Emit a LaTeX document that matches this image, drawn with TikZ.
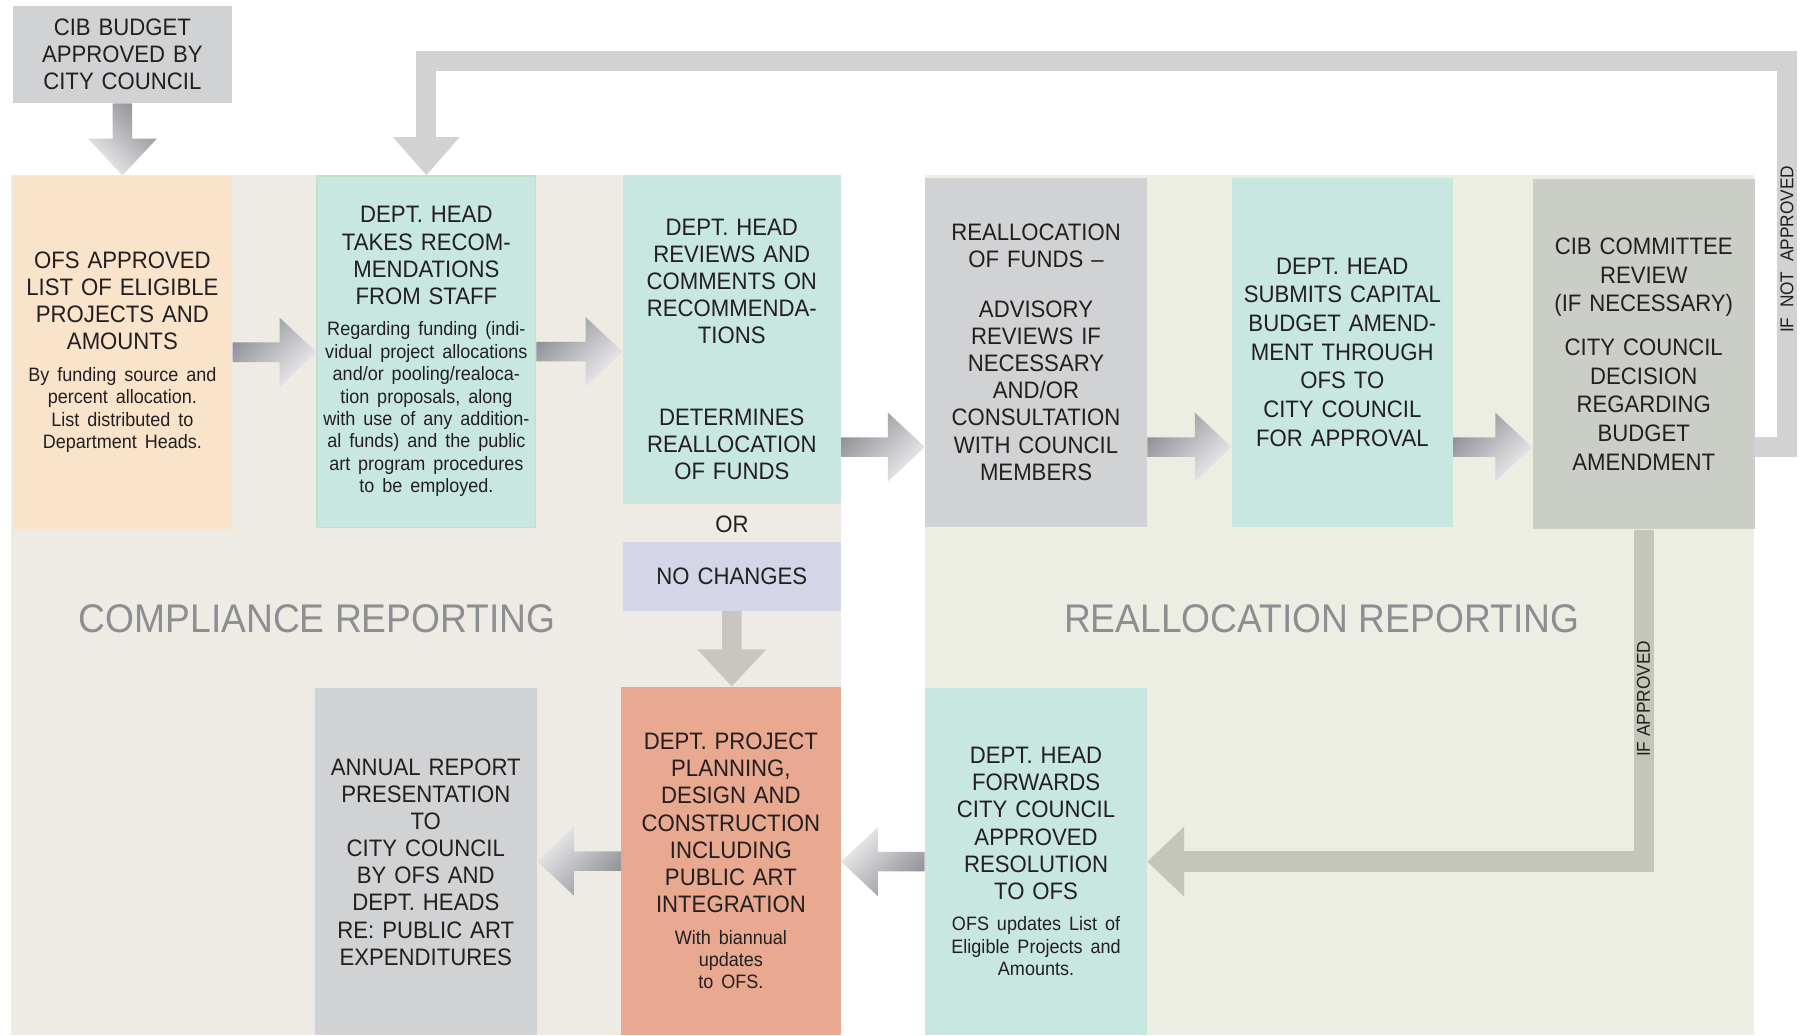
\documentclass[tikz,border=0pt]{standalone}
\usepackage{fontspec}
\setmainfont{Liberation Sans}[FakeStretch=0.93]
\usetikzlibrary{calc}

\definecolor{ink}{HTML}{231F20}
\definecolor{cmpbg}{HTML}{EEEAE4}
\definecolor{relbg}{HTML}{EDEEE3}
\definecolor{peach}{HTML}{F9E3CB}
\definecolor{teal}{HTML}{C8E7E1}
\definecolor{tkborder}{HTML}{C2E1C8}
\definecolor{boxgray}{HTML}{D1D2D4}
\definecolor{lav}{HTML}{D4D5E7}
\definecolor{salmon}{HTML}{E9A890}
\definecolor{cibgray}{HTML}{CBCEC6}
\definecolor{fbgray}{HTML}{D2D2D2}
\definecolor{apgray}{HTML}{C4C6B9}
\definecolor{ncarrow}{HTML}{C9C5C0}
\definecolor{headgray}{HTML}{8C8E92}
\definecolor{arrdark}{HTML}{8E8F94}
\definecolor{arrlight}{HTML}{EEEEF0}

\newcommand{\boxfont}{\fontsize{11.8}{13.45}\selectfont}
\newcommand{\notefont}{\fontsize{9.6}{11.1}\selectfont}
\newcommand{\headfont}{\fontsize{19.8}{22}\selectfont}
\newcommand{\labfont}{\fontsize{9.2}{10}\selectfont}

% block arrows: [style]{tail}{tip}
\newcommand{\rblock}[3][]{\path[#1] ($(#2)+(0,-8.5)$) -- ($(#3)+(-32,-8.5)$) -- ($(#3)+(-32,-30)$) -- (#3)
  -- ($(#3)+(-32,30)$) -- ($(#3)+(-32,8.5)$) -- ($(#2)+(0,8.5)$) -- cycle;}
\newcommand{\lblock}[3][]{\path[#1] ($(#2)+(0,-8.5)$) -- ($(#3)+(32,-8.5)$) -- ($(#3)+(32,-30)$) -- (#3)
  -- ($(#3)+(32,30)$) -- ($(#3)+(32,8.5)$) -- ($(#2)+(0,8.5)$) -- cycle;}
\newcommand{\dblock}[3][]{\path[#1] ($(#2)+(-8.5,0)$) -- ($(#3)+(-8.5,-32)$) -- ($(#3)+(-30,-32)$) -- (#3)
  -- ($(#3)+(30,-32)$) -- ($(#3)+(8.5,-32)$) -- ($(#2)+(8.5,0)$) -- cycle;}

\begin{document}
\begin{tikzpicture}[x=0.02cm,y=-0.02cm,
	box/.style={rectangle,inner sep=0pt,text=ink,align=center,text width=3.7cm,font=\boxfont},
	sz/.style 2 args={minimum width=#1*0.02cm,minimum height=#2*0.02cm},
	wide/.style={font={\fontsize{11.8}{14.2}\selectfont}},
	head/.style={inner sep=0pt,text=headgray,font=\headfont},
	lab/.style={inner sep=0pt,text=ink,font=\labfont,rotate=90},
	gradR/.style={top color=arrdark,bottom color=arrlight,shading angle=45},
	gradL/.style={top color=arrlight,bottom color=arrdark,shading angle=45},
	gradD/.style={top color=arrdark,bottom color=arrlight,shading angle=-45},
	flatD/.style={fill=ncarrow},
	fbbar/.style={draw=fbgray,line width=0.348cm},
	apbar/.style={draw=apgray,line width=0.354cm}]
	\useasboundingbox (0,0) rectangle (1568,901);
	\fill[white] (0,0) rectangle (1568,901);

	% panels
	\fill[cmpbg] (9.6,152) rectangle (731.5,901);
	\fill[relbg] (804.5,152) rectangle (1526.5,901);
	\node[head] (cmphead) at (276,538) {COMPLIANCE REPORTING};
	\node[head] (relhead) at (1150,538) {REALLOCATION REPORTING};

	% top row
	\node[box,sz={191}{84},fill=boxgray] (budget) at (106.5,47.5) {CIB BUDGET\\APPROVED BY\\CITY COUNCIL};
	\node[box,sz={191}{307},fill=peach] (ofs) at (106.5,306.5) {OFS APPROVED\\LIST OF ELIGIBLE\\PROJECTS AND\\AMOUNTS\par\vspace{4.5pt}\notefont By funding source and\\percent allocation.\\List distributed to\\Department Heads.\par};
	\node[box,sz={190}{306},fill=teal,draw=tkborder,line width=0.7pt] (takes) at (371,306) {DEPT. HEAD\\TAKES RECOM-\\MENDATIONS\\FROM STAFF\par\vspace{4.5pt}\notefont Regarding funding (indi-\\vidual project allocations\\and/or pooling/realoca-\\tion proposals, along\\with use of any addition-\\al funds) and the public\\art program procedures\\to be employed.\par};
	\node[box,sz={189.5}{286},fill=teal] (reviews) at (636.75,295.5) {};
	\node[box] (reviews-t) at (636.75,304) {DEPT. HEAD\\REVIEWS AND\\COMMENTS ON\\RECOMMENDA-\\TIONS\\[26.8pt]DETERMINES\\REALLOCATION\\OF FUNDS};
	\node[box] (or) at (637,456) {OR};
	\node[box,sz={189.5}{60},fill=lav] (nochg) at (636.75,501.5) {NO CHANGES};
	\node[box,sz={193}{304},fill=boxgray] (realloc) at (901.5,306.5) {REALLOCATION\\OF FUNDS –\\[11pt]ADVISORY\\REVIEWS IF\\NECESSARY\\AND/OR\\CONSULTATION\\WITH COUNCIL\\MEMBERS};
	\node[box,wide,sz={192}{304},fill=teal] (submits) at (1168,306.5) {DEPT. HEAD\\SUBMITS CAPITAL\\BUDGET AMEND-\\MENT THROUGH\\OFS TO\\CITY COUNCIL\\FOR APPROVAL};
	\node[box,wide,sz={193.5}{305},fill=cibgray] (cib) at (1430.25,308) {CIB COMMITTEE\\REVIEW\\(IF NECESSARY)\\[7.4pt]CITY COUNCIL\\DECISION\\REGARDING\\BUDGET\\AMENDMENT};

	% bottom row
	\node[box,sz={193}{302},fill=boxgray] (annual) at (370.5,750) {ANNUAL REPORT\\PRESENTATION\\TO\\CITY COUNCIL\\BY OFS AND\\DEPT. HEADS\\RE: PUBLIC ART\\EXPENDITURES};
	\node[box,sz={191}{303.5},fill=salmon] (planning) at (636,749.25) {DEPT. PROJECT\\PLANNING,\\DESIGN AND\\CONSTRUCTION\\INCLUDING\\PUBLIC ART\\INTEGRATION\par\vspace{4.5pt}\notefont With biannual\\updates\\to OFS.\par};
	\node[box,sz={193}{302.5},fill=teal] (forwards) at (901.5,749.75) {DEPT. HEAD\\FORWARDS\\CITY COUNCIL\\APPROVED\\RESOLUTION\\TO OFS\par\vspace{4.5pt}\notefont OFS updates List of\\Eligible Projects and\\Amounts.\par};

	% loops
	\coordinate (row2) at (0,389);
	\coordinate (fbtop) at (0,53);
	\coordinate (fbright) at (1554.5,0);
	\draw[fbbar] (cib.east |- row2) -| (fbright |- fbtop) -| ($(takes.north)+(0,-33)$);
	\fill[fbgray] ($(takes.north)+(-29,-33)$) -- (takes.north) -- ($(takes.north)+(29,-33)$) -- cycle;
	\draw[apbar] (cib.south) |- ($(forwards.east)+(32,0)$);
	\fill[apgray] ($(forwards.east)+(32,-30.5)$) -- (forwards.east) -- ($(forwards.east)+(32,30.5)$) -- cycle;
	\node[lab] (notappr) at (1555,217) {IF\ \ NOT\ \ APPROVED};
	\node[lab] (appr) at (1430,608) {IF APPROVED};

	% arrows
	\rblock[gradR]{ofs.east}{takes.west |- ofs.east}
	\rblock[gradR]{takes.east}{reviews.west |- takes.east}
	\rblock[gradR]{reviews.east |- row2}{realloc.west |- row2}
	\rblock[gradR]{realloc.east |- row2}{submits.west |- row2}
	\rblock[gradR]{submits.east |- row2}{cib.west |- row2}
	\lblock[gradL]{forwards.west}{planning.east |- forwards.west}
	\lblock[gradL]{planning.west}{annual.east |- planning.west}
	\dblock[gradD]{budget.south}{ofs.north -| budget.south}
	\dblock[flatD]{nochg.south}{planning.north -| nochg.south}
\end{tikzpicture}
\end{document}
